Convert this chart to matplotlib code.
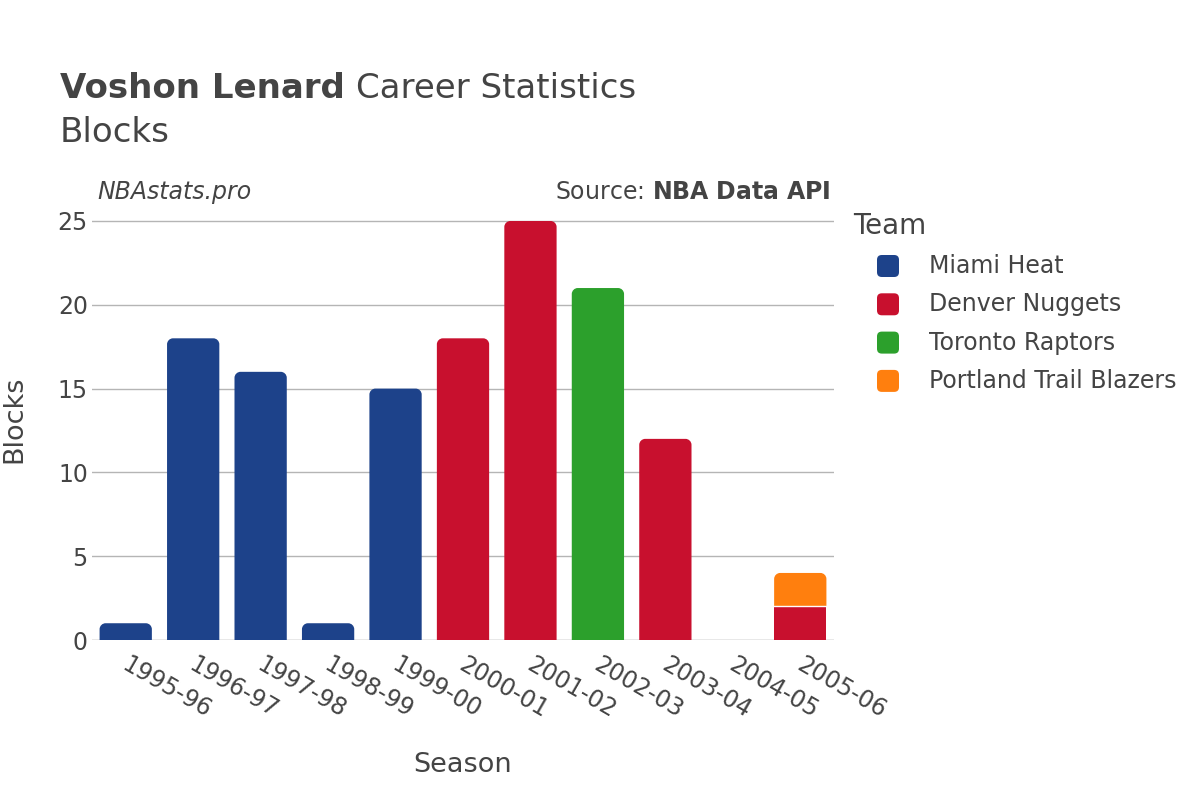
import matplotlib.pyplot as plt
import matplotlib.transforms as mtransforms
from matplotlib.patches import FancyBboxPatch, Rectangle, PathPatch
from matplotlib.path import Path

# datos
temporadas = ['1995-96', '1996-97', '1997-98', '1998-99', '1999-00', '2000-01',
              '2001-02', '2002-03', '2003-04', '2004-05', '2005-06']
equipos = ['Miami Heat', 'Denver Nuggets', 'Toronto Raptors', 'Portland Trail Blazers']
colores = ['#1D428A', '#C8102E', '#2CA02C', '#FF7F0E']

miami = [1, 18, 16, 1, 15, 0, 0, 0, 0, 0, 0]
denver = [0, 0, 0, 0, 0, 18, 25, 0, 12, 0, 2]
toronto = [0, 0, 0, 0, 0, 0, 0, 21, 0, 0, 0]
portland = [0, 0, 0, 0, 0, 0, 0, 0, 0, 0, 2]
series = [miami, denver, toronto, portland]

W, H = 1200, 800
fig = plt.figure(figsize=(12, 8), dpi=100)
ax = fig.add_axes([92 / W, 0.2, (834 - 92) / W, 0.551])

ancho = 0.775
ymax = 26.3
ax.set_xlim(-0.5, len(temporadas) - 0.5)
ax.set_ylim(0, ymax)

# radio de esquinas en unidades de datos
bbox = ax.get_position()
px_x = bbox.width * W / len(temporadas)
px_y = bbox.height * H / ymax
radio_px = 6
rx = radio_px / px_x
ry = radio_px / px_y
k = 0.5523


def barra_redondeada(x0, y0, w, h):
    # rectangulo con esquinas superiores redondeadas
    ryy = min(ry, h / 2)
    x1, y1 = x0 + w, y0 + h
    verts = [(x0, y0), (x0, y1 - ryy),
             (x0, y1 - ryy + k * ryy), (x0 + rx - k * rx, y1), (x0 + rx, y1),
             (x1 - rx, y1),
             (x1 - rx + k * rx, y1), (x1, y1 - ryy + k * ryy), (x1, y1 - ryy),
             (x1, y0), (x0, y0)]
    codes = [Path.MOVETO, Path.LINETO,
             Path.CURVE4, Path.CURVE4, Path.CURVE4,
             Path.LINETO,
             Path.CURVE4, Path.CURVE4, Path.CURVE4,
             Path.LINETO, Path.CLOSEPOLY]
    return Path(verts, codes)


totales = [sum(s[i] for s in series) for i in range(len(temporadas))]
for i in range(len(temporadas)):
    base = 0
    for s, c in zip(series, colores):
        v = s[i]
        if v <= 0:
            continue
        x0 = i - ancho / 2
        if base + v >= totales[i]:
            ax.add_patch(PathPatch(barra_redondeada(x0, base, ancho, v), fc=c, ec='none', zorder=3))
        else:
            ax.add_patch(Rectangle((x0, base), ancho, v, fc=c, ec='none', zorder=3))
            ax.plot([x0, x0 + ancho], [base + v, base + v], color='white', lw=1, zorder=4)
        base += v

ax.set_yticks([0, 5, 10, 15, 20, 25])
ax.grid(axis='y', color='#b5b5b5', lw=1, zorder=0)
ax.axhline(0, color='#e8e8e8', lw=2, zorder=2)
for sp in ax.spines.values():
    sp.set_visible(False)
ax.tick_params(length=0, labelsize=17, colors='#444444', pad=3)
ax.set_xticks(range(len(temporadas)))
ax.set_xticklabels(temporadas, rotation=-30, ha='left', rotation_mode='anchor')
ax.tick_params(axis='x', pad=9)
desplaza = mtransforms.ScaledTranslation(4 / 100, 0, fig.dpi_scale_trans)
for lab in ax.get_xticklabels():
    lab.set_transform(lab.get_transform() + desplaza)

ax.set_xlabel('Season', fontsize=19.5, color='#444444', labelpad=21)
ax.set_ylabel('Blocks', fontsize=19.5, color='#444444', labelpad=22)

# titulos
t1 = fig.text(0.05, 0.889, 'Voshon Lenard', fontsize=24.5, fontweight='bold', color='#444444', va='center')
fig.canvas.draw()
ext = t1.get_window_extent()
fig.text(ext.x1 / W + 0.009, 0.889, 'Career Statistics', fontsize=24.5, color='#444444', va='center')
fig.text(0.05, 0.834, 'Blocks', fontsize=24.5, color='#444444', va='center')

fig.text(0.081, 0.76, 'NBAstats.pro', fontsize=17, style='italic', color='#444444', va='center')
fig.text(0.692, 0.76, r'Source: $\bf{NBA\ Data\ API}$', fontsize=17, color='#444444', va='center', ha='right')

# leyenda (manual)
fig.text(853 / W, 1 - 226 / H, 'Team', fontsize=20, color='#444444', va='center')
for j, (e, c) in enumerate(zip(equipos, colores)):
    yc = 266 + j * 38.3
    fig.patches.append(FancyBboxPatch((877 / W, 1 - (yc + 11) / H), 22 / W, 22 / H,
                                      boxstyle='round,pad=0,rounding_size=0.004',
                                      mutation_aspect=W / H, fc=c, ec='none',
                                      transform=fig.transFigure, figure=fig))
    fig.text(929 / W, 1 - yc / H, e, fontsize=17, color='#444444', va='center')

fig.savefig('out.png', dpi=100, facecolor='white')
